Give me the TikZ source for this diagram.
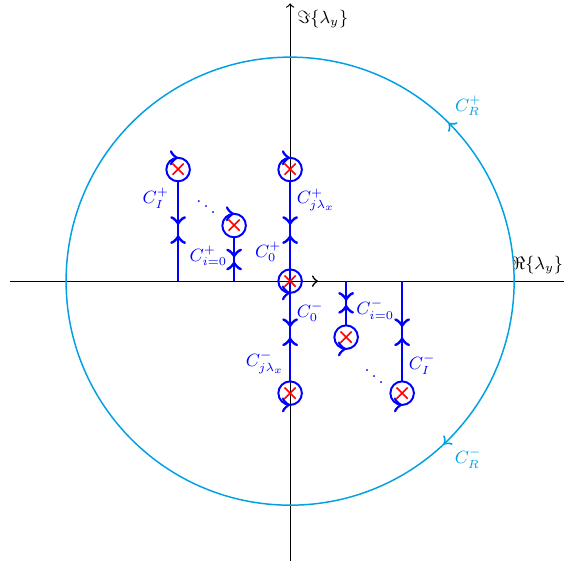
\documentclass[tikz,border=0pt]{standalone}
\usepackage{amsmath,amssymb}
\usepackage{xcolor}
\usetikzlibrary{arrows.meta, decorations.markings, shapes.misc}

\definecolor{contour}{RGB}{0,160,227}

\tikzset{
  ring/.style={circle, minimum size=0.42cm, inner sep=0pt},
  polecross/.style={cross out, draw=red, thick, minimum size=0.17cm, inner sep=0pt},
  keyhole/.style 2 args={blue, line width=1.1pt, postaction={decorate},
    decoration={markings, mark=at position #1 with {\arrow[scale=1.4]{>}},
      mark=at position #2 with {\arrow[scale=1.4]{<}}}},
  loopcw/.style={blue, line width=1pt, postaction={decorate},
    decoration={markings, mark=at position 0.5 with {\arrow[scale=1.4]{>}}}},
  loopccw/.style={blue, line width=1pt, postaction={decorate},
    decoration={markings, mark=at position 0.75 with {\arrow[scale=1.4]{>}}}},
  lbl/.style={text=blue},
}

\begin{document}
\begin{tikzpicture}[font=\small, >=to]
		\useasboundingbox (-5.18,-5.02) rectangle (4.89,5.02);

		% Axes
		\coordinate (O) at (0,0);
		\coordinate (xl) at (-5,0); \coordinate (xr) at (5,0);
		\coordinate (yb) at (0,-5); \coordinate (yt) at (0,4.96);
		\draw[semithick, ->, postaction={decorate},
			decoration={markings, mark=at position 5.5cm with {\arrow[scale=1.4]{>}}}]
			(xl) -- (xr) node[above left] {$\Re\{\lambda_y\}$};
		\draw[semithick, ->] (yb) -- (yt) node[below right] {$\Im\{\lambda_y\}$};

		% Big contour
		\draw[contour, line width=0.75pt, postaction={decorate},
			decoration={markings, mark=at position 0.125 with {\arrow[scale=1.4]{>}},
				mark=at position 0.875 with {\arrow[scale=1.4]{<}}}] (O) circle (4);
		\node[text=contour] at (3.18,3.13) {$C_R^+$};
		\node[text=contour] at (3.18,-3.16) {$C_R^-$};

		% Poles
		\node[ring] (r0) at (0,0) {};
		\node[ring] (r1) at (-2,2) {};
		\node[ring] (r2) at (-1,1) {};
		\node[ring] (r3) at (0,2) {};
		\node[ring] (r4) at (0,-2) {};
		\node[ring] (r5) at (1,-1) {};
		\node[ring] (r6) at (2,-2) {};

		% Cuts from the real axis to the poles
		\draw[keyhole={0.82cm}{1.16cm}] (r1 |- O) -- (r1.south);
		\draw[keyhole={0.35cm}{0.58cm}] (r2 |- O) -- (r2.south);
		\draw[keyhole={0.82cm}{1.16cm}] (r3 |- O) -- (r3.south);
		\draw[keyhole={0.82cm}{1.16cm}] (r4 |- O) -- (r4.north);
		\draw[keyhole={0.35cm}{0.58cm}] (r5 |- O) -- (r5.north);
		\draw[keyhole={0.82cm}{1.16cm}] (r6 |- O) -- (r6.north);

		% Small circles round the poles
		\foreach \r in {r1,r2,r3}
			\draw[loopcw] (\r.south) arc[start angle=-90, end angle=-450, radius=0.21cm];
		\foreach \r in {r0,r4,r5,r6}
			\draw[loopccw] (\r.center) circle (0.21cm);
		\foreach \r in {r0,r1,r2,r3,r4,r5,r6}
			\node[polecross] (x\r) at (\r) {};

		% Labels
		\node[lbl] at (-2.4,1.48) {$C_I^+$};
		\node[lbl] at (-1.5,1.43) {$\ddots$};
		\node[lbl] at (-1.46,0.45) {$C_{i=0}^+$};
		\node[lbl] at (0.46,1.45) {$C_{j\lambda_x}^+$};
		\node[lbl] at (-0.39,0.52) {$C_0^+$};
		\node[lbl] at (0.36,-0.55) {$C_0^-$};
		\node[lbl] at (1.52,-0.5) {$C_{i=0}^-$};
		\node[lbl] at (2.36,-1.48) {$C_I^-$};
		\node[lbl] at (-0.45,-1.45) {$C_{j\lambda_x}^-$};
		\node[lbl] at (1.5,-1.6) {$\ddots$};
	\end{tikzpicture}
\end{document}
